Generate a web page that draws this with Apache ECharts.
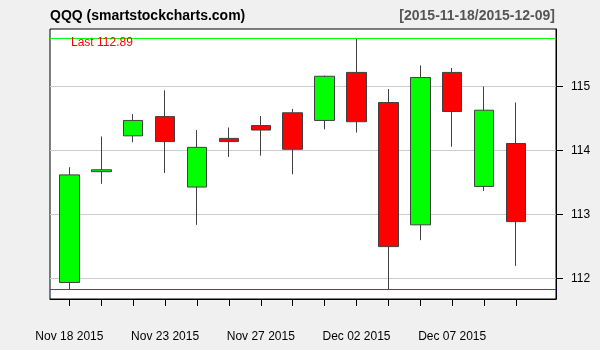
<!DOCTYPE html>
<html>
<head>
<meta charset="utf-8">
<script src="https://cdn.jsdelivr.net/npm/echarts@6/dist/echarts.min.js"></script>
<style>
html,body{margin:0;padding:0;background:#f0f0f0;}
#chart{width:600px;height:350px;}
</style>
</head>
<body>
<div id="chart"></div>
<script>
// ---- data ----
var dates = ['2015-11-18','2015-11-19','2015-11-20','2015-11-23','2015-11-24','2015-11-25','2015-11-27','2015-11-30','2015-12-01','2015-12-02','2015-12-03','2015-12-04','2015-12-07','2015-12-08','2015-12-09'];
var opens  = [111.94, 113.67, 114.23, 114.53, 113.43, 114.19, 114.39, 114.59, 114.47, 115.22, 114.75, 112.84, 115.22, 113.44, 114.11];
var closes = [113.62, 113.70, 114.47, 114.14, 114.05, 114.14, 114.32, 114.02, 115.16, 114.45, 112.50, 115.14, 114.61, 114.63, 112.89];
var highs  = [113.74, 114.22, 114.57, 114.94, 114.32, 114.36, 114.54, 114.65, 115.17, 115.75, 114.96, 115.33, 115.29, 115.00, 114.75];
var lows   = [111.83, 113.48, 114.13, 113.65, 112.84, 113.90, 113.92, 113.63, 114.33, 114.28, 111.83, 112.60, 114.06, 113.37, 112.20];
var xLabelIdx = [0, 3, 6, 9, 12];
var yTicks = [112, 113, 114, 115];

var months = ['Jan','Feb','Mar','Apr','May','Jun','Jul','Aug','Sep','Oct','Nov','Dec'];
function fmtDate(s){ var p = s.split('-'); return months[+p[1]-1] + ' ' + p[2] + ' ' + p[0]; }

var X_MIN = -0.608, X_MAX = 15.254;
var Y_MIN = 111.682, Y_MAX = 115.898;
var ohlc = dates.map(function(d, i){ return [i, opens[i], closes[i], lows[i], highs[i]]; });
var tickIdx = dates.map(function(d, i){ return i; });
var maxHigh = Math.max.apply(null, highs);
var minLow = Math.min.apply(null, lows);
var lastClose = closes[closes.length - 1];

var FONT = '"Liberation Sans", Arial, sans-serif';
function levelLine(name, value, color){
  return {
    name: name, type: 'line', silent: true, symbol: 'none', z: 3,
    data: [[X_MIN, value], [X_MAX, value]],
    lineStyle: {color: color, type: 'solid', width: 1, opacity: 1},
    itemStyle: {color: color},
    emphasis: {disabled: true}
  };
}
var chart = echarts.init(document.getElementById('chart'), null, {renderer: 'canvas'});
chart.setOption({
  animation: false,
  backgroundColor: '#f0f0f0',
  textStyle: {fontFamily: FONT},
  title: [
    {text: 'QQQ (smartstockcharts.com)', left: 50, top: 9, padding: 0, textStyle: {fontSize: 14, fontWeight: 'bold', color: '#000', fontFamily: FONT}},
    {text: '[' + dates[0] + '/' + dates[dates.length-1] + ']', right: 45, top: 9, padding: 0, textStyle: {fontSize: 14, fontWeight: 'bold', color: '#555', fontFamily: FONT}},
    {text: 'Last ' + lastClose.toFixed(2), left: 71, top: 37, padding: 0, textStyle: {fontSize: 12, fontWeight: 'normal', color: '#ff0000', fontFamily: FONT}}
  ],
  grid: {left: 50, right: 44, top: 29, bottom: 51, show: true, backgroundColor: '#ffffff', borderColor: '#000', borderWidth: 1, containLabel: false},
  xAxis: {
    type: 'value', min: X_MIN, max: X_MAX,
    splitLine: {show: false},
    axisLine: {show: true, onZero: false, lineStyle: {color: '#000', width: 1}},
    axisTick: {show: true, customValues: tickIdx, length: 7, lineStyle: {color: '#000'}},
    axisLabel: {show: true, customValues: xLabelIdx, margin: 32, fontSize: 12, color: '#000', fontFamily: FONT,
      formatter: function(v){ return fmtDate(dates[Math.round(v)]); }}
  },
  yAxis: {
    type: 'value', position: 'right', min: Y_MIN, max: Y_MAX, scale: true,
    splitLine: {show: true, lineStyle: {color: '#cccccc', width: 1}},
    axisLine: {show: true, onZero: false, lineStyle: {color: '#000', width: 1}},
    axisTick: {show: true, customValues: yTicks, length: 7, lineStyle: {color: '#000'}},
    axisLabel: {show: true, customValues: yTicks, margin: 15, fontSize: 12, color: '#000', fontFamily: FONT}
  },
  series: [{
    type: 'candlestick',
    data: ohlc,
    barWidth: 20,
    z: 2,
    itemStyle: {color: '#00ff00', color0: '#ff0000', borderColor: '#404040', borderColor0: '#404040', borderColorDoji: '#404040', borderWidth: 1}
  },
  levelLine('high', maxHigh, '#00ff00'),
  levelLine('low', minLow, '#ff0000')
  ]
});
</script>
</body>
</html>
